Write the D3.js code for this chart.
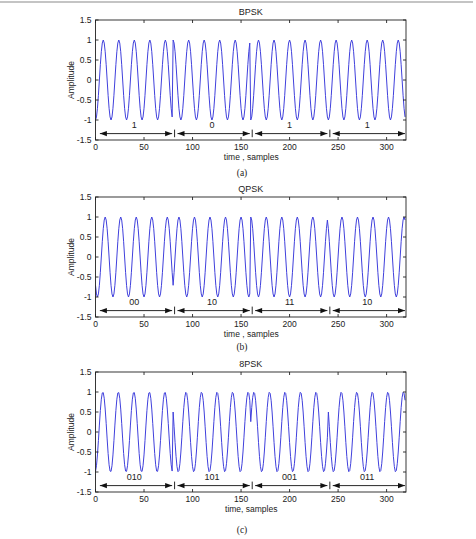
<!DOCTYPE html>
<html>
<head>
<meta charset="utf-8">
<script src="https://cdn.jsdelivr.net/npm/d3@7"></script>
<style>
  html, body { margin: 0; padding: 0; background: #fff; }
  svg { display: block; }
  text { font-family: "Liberation Sans", Arial, sans-serif; fill: #222; }
  .cap { font-family: "Liberation Serif", "Times New Roman", serif; }
</style>
</head>
<body>
<svg id="fig" width="476" height="539"></svg>
<script>
// ---- data ----
const samplesPerSymbol = 80;     // samples per symbol
const samplesPerCycle = 16;      // carrier period in samples
const totalSamples = 320;
const xTicks = [0, 50, 100, 150, 200, 250, 300];
const yTicks = [-1.5, -1, -0.5, 0, 0.5, 1, 1.5];
const yTickLabels = ["-1.5", "-1", "-0.5", "0", "0.5", "1", "1.5"];

const titles = ["BPSK", "QPSK", "8PSK"];
const xLabels = ["time , samples", "time , samples", "time, samples"];
const captions = ["(a)", "(b)", "(c)"];

const bpskBits = ["1", "0", "1", "1"];
const bpskPhaseDeg = [180, 0, 180, 180];
const qpskBits = ["00", "10", "11", "10"];
const qpskPhaseDeg = [135, 225, 0, 45];
const psk8Bits = ["010", "101", "001", "011"];
const psk8PhaseDeg = [190, 60, 285, 60];

const panelBits = [bpskBits, qpskBits, psk8Bits];
const panelPhases = [bpskPhaseDeg, qpskPhaseDeg, psk8PhaseDeg];

// ---- layout ----
const panelTops = [20, 197, 372];
const panelCaptionY = [176, 350, 533];
const left = 95.5, right = 406, plotH = 120;

const svg = d3.select("#fig");

// top rule
svg.append("line").attr("x1", 0).attr("x2", 473).attr("y1", 2).attr("y2", 2)
  .attr("stroke", "#8a8a8a").attr("stroke-width", 1.2);

panelTops.forEach((top, p) => {
  const bottom = top + plotH;
  const x = d3.scaleLinear().domain([0, totalSamples]).range([left, right]);
  const y = d3.scaleLinear().domain([-1.5, 1.5]).range([bottom, top]);
  const g = svg.append("g");

  // signal samples
  const phases = panelPhases[p];
  const pts = d3.range(totalSamples).map(n => {
    const k = Math.floor(n / samplesPerSymbol);
    const t = n - k * samplesPerSymbol;
    return [n, Math.cos(2 * Math.PI * t / samplesPerCycle + phases[k] * Math.PI / 180)];
  });

  const clipId = "clip" + p;
  svg.append("clipPath").attr("id", clipId).append("rect")
    .attr("x", left).attr("y", top).attr("width", right - left).attr("height", plotH);

  g.append("path").datum(pts)
    .attr("clip-path", `url(#${clipId})`)
    .attr("fill", "none").attr("stroke", "#4040dc").attr("stroke-width", 1)
    .attr("d", d3.line().x(d => x(d[0])).y(d => y(d[1])));

  // box
  g.append("rect").attr("x", left).attr("y", top).attr("width", right - left).attr("height", plotH)
    .attr("fill", "none").attr("stroke", "#222").attr("stroke-width", 0.9);

  // ticks (inside, all four sides)
  const tl = 3;
  xTicks.forEach(v => {
    g.append("line").attr("x1", x(v)).attr("x2", x(v)).attr("y1", bottom).attr("y2", bottom - tl).attr("stroke", "#222").attr("stroke-width", 0.9);
    g.append("line").attr("x1", x(v)).attr("x2", x(v)).attr("y1", top).attr("y2", top + tl).attr("stroke", "#222").attr("stroke-width", 0.9);
    g.append("text").attr("x", x(v)).attr("y", bottom + 10).attr("text-anchor", "middle")
      .attr("font-size", 8.5).text(v);
  });
  yTicks.forEach((v, i) => {
    g.append("line").attr("x1", left).attr("x2", left + tl).attr("y1", y(v)).attr("y2", y(v)).attr("stroke", "#222").attr("stroke-width", 0.9);
    g.append("line").attr("x1", right).attr("x2", right - tl).attr("y1", y(v)).attr("y2", y(v)).attr("stroke", "#222").attr("stroke-width", 0.9);
    g.append("text").attr("x", left - 4).attr("y", y(v) + 3).attr("text-anchor", "end")
      .attr("font-size", 8.5).text(yTickLabels[i]);
  });

  // title, labels, caption
  g.append("text").attr("x", (left + right) / 2).attr("y", top - 5).attr("text-anchor", "middle")
    .attr("font-size", 9).text(titles[p]);
  g.append("text").attr("x", (left + right) / 2 + 0.5).attr("y", bottom + 20).attr("text-anchor", "middle")
    .attr("font-size", 8.5).text(xLabels[p]);
  g.append("text").attr("transform", `translate(74,${(top + bottom) / 2}) rotate(-90)`)
    .attr("text-anchor", "middle").attr("font-size", 8.5).text("Amplitude");
  g.append("text").attr("class", "cap").attr("x", 242).attr("y", panelCaptionY[p])
    .attr("text-anchor", "middle").attr("font-size", 9.5).text(captions[p]);

  // symbol arrows
  const bits = panelBits[p];
  const ay = y(-1.34);
  const hl = 7, hw = 2.6;
  bits.forEach((b, k) => {
    const s0 = k * samplesPerSymbol, s1 = (k + 1) * samplesPerSymbol;
    const xa = x(s0 + 4.5), xb = x(s1 - 1);
    g.append("line").attr("x1", xa).attr("x2", xb).attr("y1", ay).attr("y2", ay)
      .attr("stroke", "#111").attr("stroke-width", 0.9);
    g.append("path").attr("d", `M${xa},${ay}L${xa + hl},${ay - hw}L${xa + hl},${ay + hw}Z`).attr("fill", "#111");
    g.append("path").attr("d", `M${xb},${ay}L${xb - hl},${ay - hw}L${xb - hl},${ay + hw}Z`).attr("fill", "#111");
    g.append("text").attr("x", x((s0 + s1) / 2)).attr("y", y(-1.21)).attr("text-anchor", "middle")
      .attr("font-size", 9).text(b);
    if (k > 0) {
      g.append("line").attr("x1", x(s0 + 1.5)).attr("x2", x(s0 + 1.5)).attr("y1", y(-1.24)).attr("y2", y(-1.43))
        .attr("stroke", "#111").attr("stroke-width", 0.9);
    }
  });
});
</script>
</body>
</html>
